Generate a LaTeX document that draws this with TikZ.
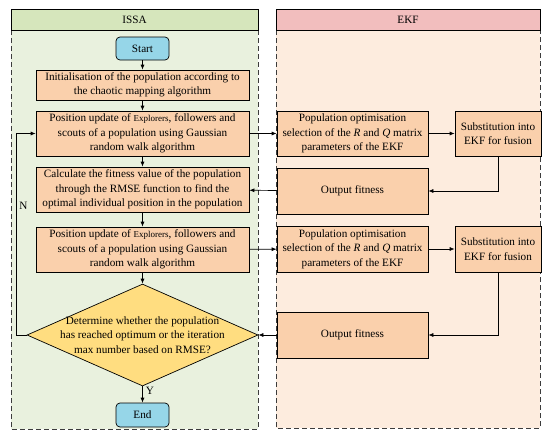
\documentclass[tikz,border=0pt]{standalone}
\usepackage{fontspec}
\setmainfont{Liberation Serif}
\usetikzlibrary{shapes.geometric}
\usetikzlibrary{positioning}
\usetikzlibrary{arrows.meta}

\definecolor{issahead}{RGB}{214,230,188}
\definecolor{issabg}{RGB}{233,241,222}
\definecolor{ekfhead}{RGB}{242,190,190}
\definecolor{ekfbg}{RGB}{253,236,222}
\definecolor{boxfill}{RGB}{250,208,172}
\definecolor{termfill}{RGB}{150,214,232}
\definecolor{decfill}{RGB}{255,221,128}
\definecolor{lanedash}{RGB}{60,60,60}

\tikzset{
	lane/.style={draw=lanedash, line width=1pt, dash pattern=on 5pt off 3pt},
	header/.style={draw, line width=0.8pt, minimum height=21pt, inner sep=0pt},
	procbox/.style={draw, fill=boxfill, line width=0.7pt, align=center, inner sep=1pt},
	termbox/.style={draw, fill=termfill, line width=0.7pt, rounded corners=4pt, minimum width=53pt, minimum height=23pt, inner sep=0pt},
	flow/.style={-{Latex[length=5pt,width=4pt]}, line width=0.7pt}
}

\begin{document}
\begin{tikzpicture}[x=1pt,y=-1pt, font=\fontsize{11.2}{14.5}\selectfont]
		\useasboundingbox (0,0) rectangle (550,437);
		% swimlanes
		\fill[issabg] (11,30) rectangle (258,429);
		\draw[lane] (11,30) -- (11,429) -- (258,429) -- (258,30);
		\fill[ekfbg] (276,30) rectangle (540,428);
		\draw[lane] (276,30) -- (276,428) -- (540,428) -- (540,30);
		\node[header, fill=issahead, minimum width=247pt] (issa) at (134.5,19.5) {ISSA};
		\node[header, fill=ekfhead, minimum width=264pt] (ekf) at (408,19.5) {EKF};

		% ISSA column
		\node[termbox] (start) at (142.5,48.5) {Start};
		\node[procbox, minimum width=213pt, minimum height=30pt] (init) at (142.5,85) {Initialisation of the population according to\\the chaotic mapping algorithm};
		\node[procbox, minimum width=213pt, minimum height=45pt] (pos1) at (142.5,133.5) {Position update of {\small Explorers}, followers and\\scouts of a population using Gaussian\\random walk algorithm};
		\node[procbox, minimum width=213pt, minimum height=45pt] (calc) at (142.5,189.5) {Calculate the fitness value of the population\\through the RMSE function to find the\\optimal individual position in the population};
		\node[procbox, minimum width=213pt, minimum height=45pt] (pos2) at (142.5,249.5) {Position update of {\small Explorers}, followers and\\scouts of a population using Gaussian\\random walk algorithm};
		\node[diamond, draw, fill=decfill, line width=0.7pt, minimum width=231pt, minimum height=102pt, inner sep=0pt] (dec) at (142.5,335) {};
		\node[align=center] (dectext) at (142.5,335) {Determine whether the population\\has reached optimum or the iteration\\max number based on RMSE?};
		\node[termbox, minimum height=24pt] (end) at (142.5,415) {End};

		% EKF column
		\node[procbox, minimum width=151pt, minimum height=45pt] (opt1) at (352.5,133.5) {Population optimisation\\selection of the \textit{R} and \textit{Q} matrix\\parameters of the EKF};
		\node[procbox, minimum width=86pt, minimum height=45pt] (sub1) at (498,133.5) {Substitution into\\EKF for fusion};
		\node[procbox, minimum width=151pt, minimum height=46pt] (out1) at (352.5,191) {Output fitness};
		\node[procbox, minimum width=151pt, minimum height=46pt] (opt2) at (352.5,249) {Population optimisation\\selection of the \textit{R} and \textit{Q} matrix\\parameters of the EKF};
		\node[procbox, minimum width=86pt, minimum height=46pt] (sub2) at (498,249) {Substitution into\\EKF for fusion};
		\node[procbox, minimum width=151pt, minimum height=46pt] (out2) at (352.5,335) {Output fitness};

		% connectors
		\draw[flow] (start) -- (init);
		\draw[flow] (init) -- (pos1);
		\draw[flow] (pos1) -- (calc);
		\draw[flow] (calc) -- (pos2);
		\draw[flow] (pos2) -- (dec);
		\draw[flow] (dec) -- node[right, pos=0.3, inner sep=3pt] {Y} (end);
		\draw[flow] (pos1) -- (opt1);
		\draw[flow] (opt1) -- (sub1);
		\draw[flow] (sub1) |- (out1);
		\draw[flow] (out1) -- (calc);
		\draw[flow] (pos2) -- (opt2);
		\draw[flow] (opt2) -- (sub2);
		\draw[flow] (sub2) |- (out2);
		\draw[flow] (out2) -- (dec.east);
		\coordinate (loop) at (16,335);
		\draw[flow] (dec.west) -- (loop) |- node[right, pos=0.32, inner sep=3pt] {N} (pos1.west);
	\end{tikzpicture}
\end{document}
